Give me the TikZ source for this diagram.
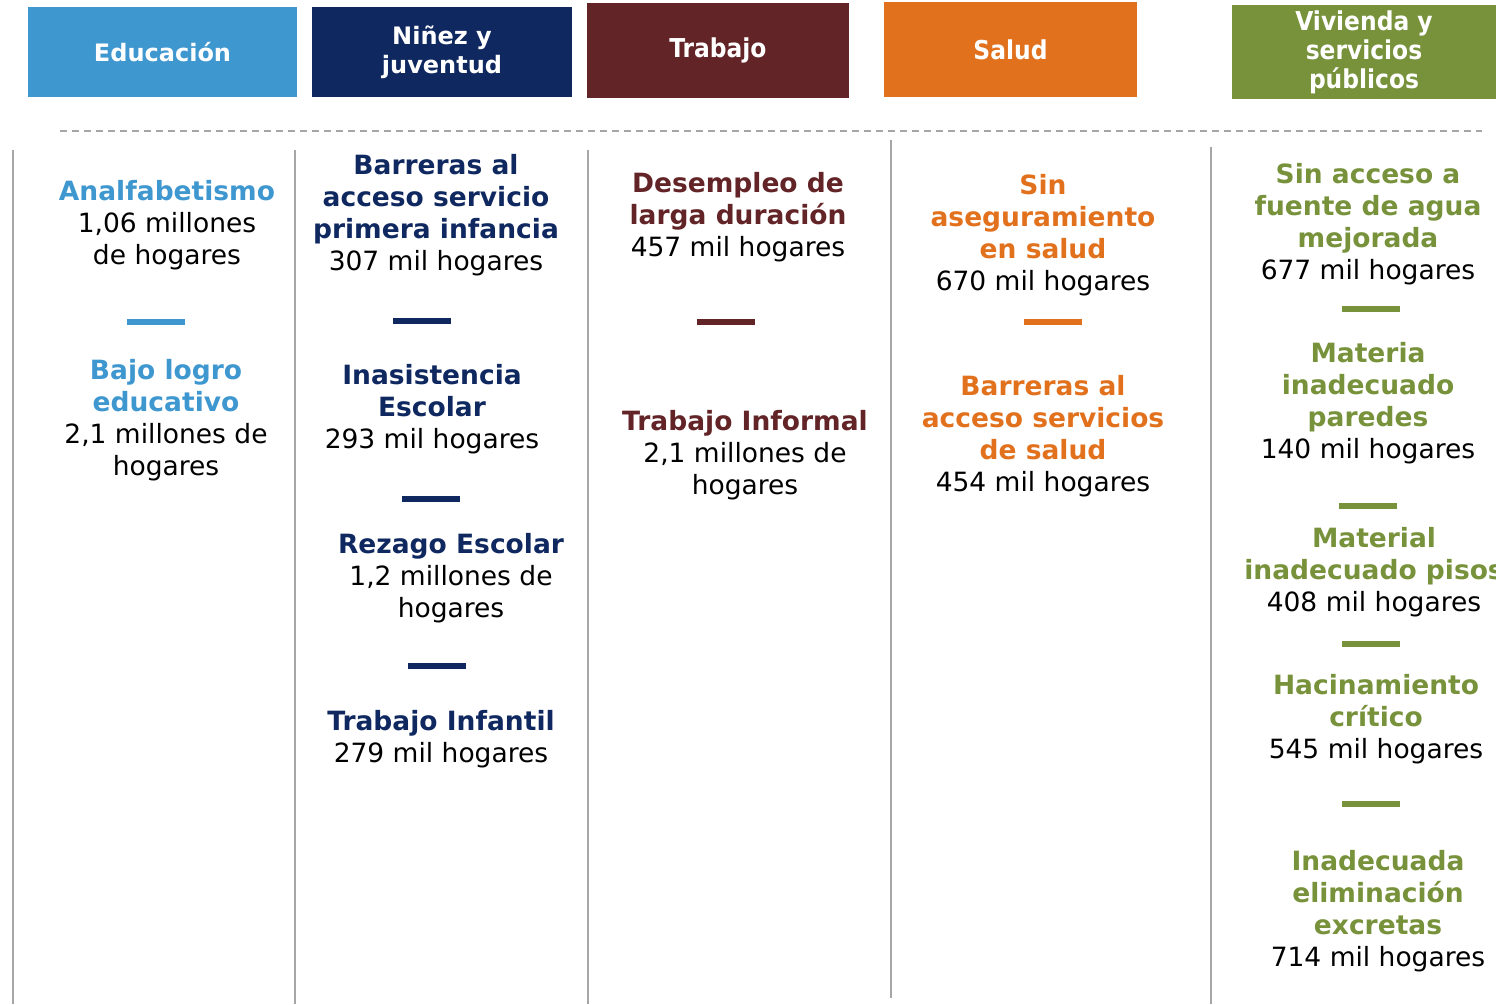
\documentclass[tikz,border=0pt]{standalone}
\usepackage{fontspec}
\setmainfont{DejaVu Sans}
\newfontfamily\condfont{DejaVu Sans Condensed}
\definecolor{cedu}{HTML}{3F97D0}
\definecolor{cnin}{HTML}{0F2860}
\definecolor{ctra}{HTML}{622426}
\definecolor{csal}{HTML}{E2711D}
\definecolor{cviv}{HTML}{77923B}
\definecolor{cgrid}{HTML}{A6A6A6}
\tikzset{
  hdr/.style={fill=#1, draw=none, text=white, font=\fontsize{24}{29}\selectfont\bfseries, align=center, inner sep=0pt},
  hdrc/.style={fill=#1, draw=none, text=white, font=\condfont\fontsize{26}{29}\selectfont\bfseries, align=center, inner sep=0pt},
  item/.style={align=center, inner sep=0pt, anchor=base, font=\fontsize{26.5}{32}\selectfont},
  sepbar/.style={draw=#1, line width=6pt},
  colline/.style={draw=cgrid, line width=2pt},
}
\newcommand{\ttl}[2]{{\bfseries\color{#1}#2}}
\begin{document}
\begin{tikzpicture}[x=1pt,y=-1pt]
\useasboundingbox (0,0) rectangle (1496,1004);
% headers
\node[hdr=cedu, minimum width=269pt, minimum height=90pt] (h1) at (162.5,52) {Educación};
\node[hdr=cnin, minimum width=260pt, minimum height=90pt] (h2) at (442,52) {Niñez y\\juventud};
\node[hdrc=ctra, minimum width=262pt, minimum height=95pt] (h3) at (718,50.5) {Trabajo};
\node[hdrc=csal, minimum width=253pt, minimum height=95pt] (h4) at (1010.5,49.5) {Salud};
\node[hdrc=cviv, minimum width=264pt, minimum height=94pt] (h5) at (1364,52) {Vivienda y\\servicios\\públicos};
% dashed line
\coordinate (dl) at (60,131);
\coordinate (dr) at (1482,131);
\draw[cgrid, line width=1.8pt, dash pattern=on 7pt off 5pt] (dl) -- (dr);
% column lines
\foreach \n/\x/\ya/\yb in {c1/13/150/1004, c2/295/150/1004, c3/588/150/1004, c4/891/140/998, c5/1211/147/1004}{
  \coordinate (\n t) at (\x,\ya);
  \coordinate (\n b) at (\x,\yb);
  \draw[colline] (\n t) -- (\n b);
}
% column 1
\node[item] (e1) at (167,264) {\ttl{cedu}{Analfabetismo}\\1,06 millones\\de hogares};
\coordinate (s1a) at (127,322); \coordinate (s1b) at (185,322);
\draw[sepbar=cedu] (s1a) -- (s1b);
\node[item] (e2) at (166,475) {\ttl{cedu}{Bajo logro}\\\ttl{cedu}{educativo}\\2,1 millones de\\hogares};
% column 2
\node[item] (n1) at (436,270) {\ttl{cnin}{Barreras al}\\\ttl{cnin}{acceso servicio}\\\ttl{cnin}{primera infancia}\\307 mil hogares};
\coordinate (s2a) at (393,321); \coordinate (s2b) at (451,321);
\draw[sepbar=cnin] (s2a) -- (s2b);
\node[item] (n2) at (432,448) {\ttl{cnin}{Inasistencia}\\\ttl{cnin}{Escolar}\\293 mil hogares};
\coordinate (s3a) at (402,499); \coordinate (s3b) at (460,499);
\draw[sepbar=cnin] (s3a) -- (s3b);
\node[item] (n3) at (451,617) {\ttl{cnin}{Rezago Escolar}\\1,2 millones de\\hogares};
\coordinate (s4a) at (408,666); \coordinate (s4b) at (466,666);
\draw[sepbar=cnin] (s4a) -- (s4b);
\node[item] (n4) at (441,762) {\ttl{cnin}{Trabajo Infantil}\\279 mil hogares};
% column 3
\node[item] (t1) at (738,256) {\ttl{ctra}{Desempleo de}\\\ttl{ctra}{larga duración}\\457 mil hogares};
\coordinate (s5a) at (697,322); \coordinate (s5b) at (755,322);
\draw[sepbar=ctra] (s5a) -- (s5b);
\node[item] (t2) at (745,494) {\ttl{ctra}{Trabajo Informal}\\2,1 millones de\\hogares};
% column 4
\node[item] (a1) at (1043,290) {\ttl{csal}{Sin}\\\ttl{csal}{aseguramiento}\\\ttl{csal}{en salud}\\670 mil hogares};
\coordinate (s6a) at (1024,322); \coordinate (s6b) at (1082,322);
\draw[sepbar=csal] (s6a) -- (s6b);
\node[item] (a2) at (1043,491) {\ttl{csal}{Barreras al}\\\ttl{csal}{acceso servicios}\\\ttl{csal}{de salud}\\454 mil hogares};
% column 5
\node[item] (v1) at (1368,279) {\ttl{cviv}{Sin acceso a}\\\ttl{cviv}{fuente de agua}\\\ttl{cviv}{mejorada}\\677 mil hogares};
\coordinate (s7a) at (1342,309); \coordinate (s7b) at (1400,309);
\draw[sepbar=cviv] (s7a) -- (s7b);
\node[item] (v2) at (1368,458) {\ttl{cviv}{Materia}\\\ttl{cviv}{inadecuado}\\\ttl{cviv}{paredes}\\140 mil hogares};
\coordinate (s8a) at (1339,506); \coordinate (s8b) at (1397,506);
\draw[sepbar=cviv] (s8a) -- (s8b);
\node[item] (v3) at (1374,611) {\ttl{cviv}{Material}\\\ttl{cviv}{inadecuado pisos}\\408 mil hogares};
\coordinate (s9a) at (1342,644); \coordinate (s9b) at (1400,644);
\draw[sepbar=cviv] (s9a) -- (s9b);
\node[item] (v4) at (1376,758) {\ttl{cviv}{Hacinamiento}\\\ttl{cviv}{crítico}\\545 mil hogares};
\coordinate (s10a) at (1342,804); \coordinate (s10b) at (1400,804);
\draw[sepbar=cviv] (s10a) -- (s10b);
\node[item] (v5) at (1378,966) {\ttl{cviv}{Inadecuada}\\\ttl{cviv}{eliminación}\\\ttl{cviv}{excretas}\\714 mil hogares};
\end{tikzpicture}
\end{document}
